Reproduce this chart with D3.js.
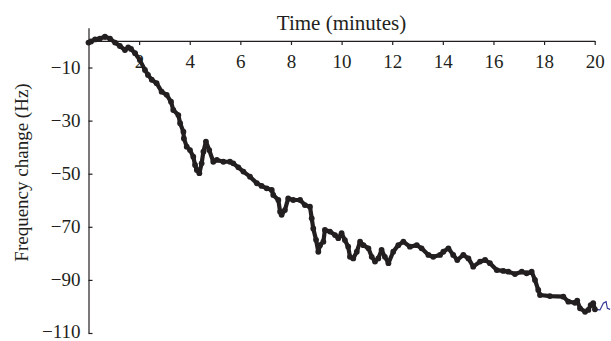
<!DOCTYPE html>
<html>
<head>
<meta charset="utf-8">
<script src="https://cdn.jsdelivr.net/npm/d3@7"></script>
<style>
  html, body { margin: 0; padding: 0; background: #fff; }
  svg { display: block; }
  text { font-family: "Liberation Serif", "DejaVu Serif", serif; fill: #231f20; }
</style>
</head>
<body>
<svg id="chart" width="611" height="341"></svg>
<script>
// Time in minutes
const times = [0.00,0.10,0.26,0.45,0.65,0.85,1.05,1.24,1.44,1.57,1.68,1.84,2.03,2.23,2.35,2.50,2.69,2.89,3.09,3.26,
  3.35,3.55,3.62,3.75,3.77,3.88,4.01,4.14,4.21,4.28,4.38,4.47,4.54,4.64,4.77,4.93,5.07,5.33,5.59,5.72,
  5.92,6.12,6.38,6.65,6.84,7.04,7.24,7.30,7.50,7.57,7.63,7.76,7.89,8.09,8.36,8.55,8.75,8.82,8.88,8.99,
  9.08,9.15,9.28,9.34,9.54,9.74,9.87,10.00,10.13,10.26,10.33,10.46,10.60,10.73,10.86,11.06,11.19,11.32,11.45,11.58,
  11.71,11.85,12.04,12.24,12.44,12.70,12.97,13.16,13.43,13.62,13.89,14.02,14.22,14.41,14.57,14.81,15.01,15.20,15.47,15.67,
  15.86,16.13,16.39,16.59,16.85,17.12,17.31,17.51,17.64,17.77,17.84,18.23,18.76,18.96,19.22,19.31,19.42,19.62,19.75,19.84,
  19.94,20.01,20.21,20.34,20.45,20.50,20.61];
// Frequency change in Hz
const freq = [-0.6,-0.2,0.6,0.9,1.6,0.9,-0.6,-1.9,-3.4,-2.4,-3.0,-4.6,-7.2,-10.9,-12.8,-14.6,-15.9,-19.1,-20.3,-22.9,
  -26.0,-27.9,-31.0,-34.2,-36.7,-39.8,-41.1,-43.6,-46.7,-48.6,-49.8,-46.1,-41.7,-37.9,-41.1,-45.5,-44.8,-45.5,-45.5,-46.1,
  -47.6,-49.2,-51.1,-53.6,-54.6,-55.5,-56.1,-58.0,-59.9,-64.3,-65.5,-63.7,-59.3,-59.9,-59.9,-61.8,-62.4,-66.8,-70.6,-74.9,
  -79.4,-76.9,-75.6,-71.2,-71.8,-73.1,-74.3,-72.4,-75.0,-77.5,-81.3,-81.9,-79.4,-75.6,-76.9,-78.1,-81.3,-83.1,-81.9,-78.7,
  -81.3,-83.7,-79.4,-76.9,-75.6,-77.5,-76.9,-78.1,-80.6,-81.3,-80.6,-79.4,-78.1,-80.6,-82.5,-80.6,-81.9,-85.0,-83.1,-82.5,
  -83.7,-86.3,-86.6,-86.9,-87.8,-86.9,-87.5,-86.9,-90.0,-93.8,-95.7,-96.1,-96.3,-98.2,-98.6,-97.8,-100.7,-102.0,-101.3,-99.5,
  -98.8,-101.1,-101.3,-98.8,-98.2,-100.7,-101.1];
const xTicks = [2,4,6,8,10,12,14,16,18,20];
const yTicks = [-10,-30,-50,-70,-90,-110];
const markerEnd = 20; // markers drawn up to this time

const data = times.map((t, i) => ({t, v: freq[i]}));

const svg = d3.select("#chart");
const x = d3.scaleLinear().domain([0, 20]).range([88.5, 594.7]);
const y = d3.scaleLinear().domain([5, -110]).range([27.7, 333]);

// Y axis (ticks inward, labels left)
const yAxis = d3.axisLeft(y).tickValues(yTicks).tickSizeInner(-4).tickSizeOuter(0).tickPadding(8)
  .tickFormat(d3.format("d"));
const gy = svg.append("g").attr("transform", `translate(${x(0)},0)`).call(yAxis);
gy.selectAll("path, line").attr("stroke", "#231f20").attr("stroke-width", 1.2);
gy.selectAll("text").style("font-size", "19px").attr("fill", "#231f20")
  .attr("dy", d => d === -110 ? "0.22em" : "0.32em");

// X axis at y=0 (ticks downward, labels below)
const xAxis = d3.axisBottom(x).tickValues(xTicks).tickSizeInner(4).tickSizeOuter(0).tickPadding(10)
  .tickFormat(d3.format("d"));
const gx = svg.append("g").attr("transform", `translate(0,${y(0)})`).call(xAxis);
gx.selectAll("path, line").attr("stroke", "#231f20").attr("stroke-width", 1.2);
gx.selectAll("text").style("font-size", "19px").attr("fill", "#231f20");

// Axis titles
svg.append("text").attr("x", 341.5).attr("y", 29.5).attr("text-anchor", "middle")
  .style("font-size", "21px").text("Time (minutes)");
svg.append("text").attr("transform", `translate(28,172.5) rotate(-90)`).attr("text-anchor", "middle")
  .style("font-size", "19px").text("Frequency change (Hz)");

const line = d3.line().x(d => x(d.t)).y(d => y(d.v));
const marked = data.filter(d => d.t <= markerEnd + 0.02);

// thin blue line over the full series (underneath markers)
svg.append("path").datum(data).attr("d", line)
  .attr("fill", "none").attr("stroke", "#2e3192").attr("stroke-width", 1.1);

// thick black trace where markers are dense
svg.append("path").datum(marked).attr("d", line)
  .attr("fill", "none").attr("stroke", "#231f20").attr("stroke-width", 4.2)
  .attr("stroke-linejoin", "round").attr("stroke-linecap", "round");

// markers
svg.append("g").selectAll("circle").data(marked).join("circle")
  .attr("cx", d => x(d.t)).attr("cy", d => y(d.v)).attr("r", 2.9).attr("fill", "#231f20");
</script>
</body>
</html>
